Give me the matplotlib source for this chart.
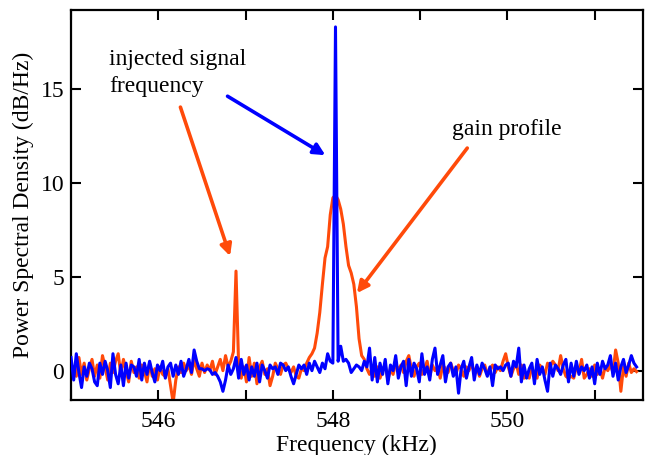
import numpy as np
import matplotlib
matplotlib.use("Agg")
import matplotlib.pyplot as plt

plt.rcParams['font.family'] = ['Liberation Serif', 'DejaVu Serif']
plt.rcParams['mathtext.fontset'] = 'stix'

freq_start = 545.0   # kHz
freq_step = 0.03     # kHz

blue_psd = [
    0.7, -0.5, 0.9, -0.1, -0.9, 0.2, -0.3, 0.4, 0.1, -0.6,
    -0.8, 0.4, -0.2, 0.5, 0.0, -0.9, 0.9, -0.2, -0.7, 0.3,
    -0.8, 0.4, -0.4, 0.3, 0.2, -0.3, 0.6, -0.5, 0.4, -0.2,
    0.5, -0.1, -0.6, 0.3, 0.0, 0.5, -0.4, 0.2, 0.4, -0.3,
    0.3, -0.2, 0.5, -0.3, 0.1, 0.6, -0.1, 1.1, 0.5, 0.1,
    0.1, 0.0, 0.1, 0.05, -0.2, -0.1, -0.3, -0.6, -1.1, -0.5,
    0.3, -0.2, 0.1, 0.7, -0.4, 0.6, -0.2, 0.3, -0.5, 0.2,
    -0.3, 0.4, -0.6, 0.3, 0.0, -0.4, 0.3, 0.1, 0.2, -0.2,
    0.4, 0.3, 0.0, 0.2, -0.3, -0.7, -0.2, 0.3, 0.1, 0.3,
    -0.2, 0.4, 0.0, 0.5, 0.2, -0.1, 0.4, 0.1, 0.9, 0.5,
    0.4, 18.3, 0.5, 1.3, 0.5, 0.6, 0.4, -0.1, 0.1, 0.3,
    0.2, 0.0, 0.5, 0.2, 1.2, -0.5, 0.7, -0.6, 0.4, -0.2,
    0.6, -0.7, 0.3, 0.0, 0.8, -0.4, 0.2, 0.5, -0.8, 0.6,
    -0.3, 0.4, 0.1, -0.6, 0.9, -0.2, 0.2, -0.5, 0.6, 1.2,
    -0.2, 0.3, 0.8, -0.6, 0.2, 0.4, -0.3, 0.2, -1.2, 0.1,
    0.5, -0.4, 0.2, 0.7, -0.5, 0.3, -0.2, 0.4, 0.1, -0.3,
    0.2, -0.8, 0.3, 0.1, 0.2, 0.0, 0.3, 0.4, -0.3, 0.5,
    0.2, 1.2, -0.6, 0.3, -0.4, 0.1, 0.4, -0.7, 0.6, -0.2,
    0.2, -0.5, -1.1, 0.4, -0.3, 0.3, 0.1, -0.2, 0.3, 0.6,
    -0.6, 0.4, -0.3, 0.5, -0.2, 0.2, 0.0, 0.3, -0.4, 0.2,
    -0.7, 0.4, -0.2, 0.5, 0.1, 0.3, 0.8, -0.3, 0.4, -0.5,
    0.2, 0.6, -0.1, 0.3, 0.8, 0.4, 0.2,
]

orange_psd = [
    -0.4, 0.2, -0.3, 0.7, -0.2, 0.4, -0.5, 0.1, 0.6, -0.3,
    0.3, -0.4, 0.8, 0.2, -0.5, 0.4, -0.1, 0.5, 0.9, -0.2,
    0.6, 0.0, -0.6, 0.5, -0.1, 0.2, -0.4, 0.3, 0.0, -0.6,
    0.4, -0.3, 0.1, -0.5, 0.2, -0.2, -0.3, 0.1, -0.8, -1.7,
    -0.5, 0.2, -0.1, 0.4, 0.0, 0.3, -0.2, 0.6, 0.1, -0.3,
    0.4, -0.1, 0.3, 0.0, 0.5, -0.2, 0.2, 0.6, 0.0, 0.8,
    0.2, 0.5, 1.0, 5.3, 0.3, -0.4, 0.2, -0.6, 0.7, -0.3,
    0.4, -0.7, 0.2, 0.5, -0.2, 0.1, -0.8, -0.3, 0.4, 0.1,
    -0.2, 0.3, 0.4, 0.1, -0.1, 0.2, -0.3, -0.4, 0.1, 0.0,
    0.4, 0.7, 0.9, 1.2, 2.0, 3.1, 4.6, 6.0, 6.6, 8.3,
    9.2, 9.35, 9.1, 8.6, 7.8, 6.6, 5.6, 5.2, 4.6, 3.4,
    1.7, 0.8, 0.6, 0.1, -0.2, 0.1, -0.3, 0.2, -0.4, 0.0,
    0.3, -0.5, 0.1, -0.2, 0.4, 0.0, 0.3, -0.1, 0.5, 0.8,
    0.1, -0.3, 0.2, 0.4, -0.2, 0.1, 0.5, -0.3, 0.3, 0.0,
    0.2, -0.4, 0.3, 0.1, -0.1, 0.4, 0.0, -0.2, 0.3, 0.1,
    -0.3, 0.2, 0.0, 0.4, -0.1, 0.2, -0.3, 0.1, 0.3, -0.2,
    0.1, 0.3, -0.1, 0.2, 0.0, 0.5, 0.9, 0.2, -0.3, 0.1,
    0.4, -0.2, 0.3, -0.4, -0.3, -0.4, 0.2, -0.3, -0.4, 0.3,
    0.1, -0.2, 0.4, 0.2, 0.5, 0.3, 0.0, 0.8, 0.1, -0.3,
    -0.4, -0.3, -0.4, 0.2, -0.1, 0.6, -0.4, -0.2, 0.1, -0.3,
    0.3, -0.2, 0.1, -0.4, 0.2, 0.0, 0.3, -0.1, 1.1, 0.4,
    -1.1, 0.2, -0.3, 0.4, -0.1, 0.1, -0.05,
]

x_major = [545, 546, 547, 548, 549, 550, 551]
x_labels = ['', '546', '', '548', '', '550', '']
y_major = [0, 5, 10, 15]

BLUE = '#0000FF'
ORANGE = '#FF4A0A'

freq_b = freq_start + freq_step * np.arange(len(blue_psd))
freq_o = freq_start + freq_step * np.arange(len(orange_psd))

fig = plt.figure(figsize=(6.52, 4.55), dpi=100)
ax = fig.add_axes([0.109, 0.121, 0.8767, 0.857])

ax.plot(freq_o, orange_psd, color=ORANGE, lw=2.2, zorder=2)
ax.plot(freq_b, blue_psd, color=BLUE, lw=2.2, zorder=3)

ax.set_xlim(545.0, 551.55)
ax.set_ylim(-1.56, 19.2)
ax.set_xticks(x_major)
ax.set_xticklabels(x_labels)
ax.set_yticks(y_major)

fs = 17
ax.tick_params(direction='in', top=True, right=True, length=7, width=1.5,
               labelsize=fs, pad=8)
ax.tick_params(axis='y', pad=5)
for s in ax.spines.values():
    s.set_linewidth(1.6)

ax.set_xlabel('Frequency (kHz)', fontsize=fs, labelpad=2)
ax.set_ylabel('Power Spectral Density (dB/Hz)', fontsize=fs, labelpad=5)

ax.text(545.437, 17.15, 'injected signal\nfrequency', fontsize=fs,
        ha='left', va='top', linespacing=1.38)
ax.text(549.364, 12.54, 'gain profile', fontsize=fs, ha='left', va='baseline')

arrow_kw = dict(arrowstyle='-|>', lw=2.6, mutation_scale=17, shrinkA=0, shrinkB=0)
ax.annotate('', xy=(547.914, 11.47), xytext=(546.793, 14.61),
            arrowprops=dict(color=BLUE, **arrow_kw))
ax.annotate('', xy=(546.822, 6.10), xytext=(546.253, 14.03),
            arrowprops=dict(color=ORANGE, **arrow_kw))
ax.annotate('', xy=(548.276, 4.13), xytext=(549.540, 11.85),
            arrowprops=dict(color=ORANGE, **arrow_kw))

fig.savefig('out.png', dpi=100)
